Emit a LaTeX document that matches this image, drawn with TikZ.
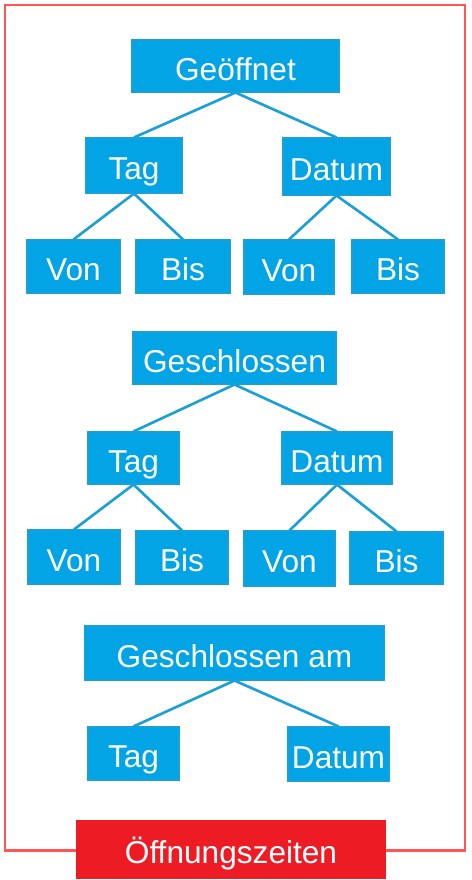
\documentclass[tikz,border=0pt]{standalone}
\usepackage{fontspec}
\setmainfont{Liberation Sans}
\usepackage{xcolor}
\usepackage{tikz}

\definecolor{boxblue}{HTML}{03A4E6}
\definecolor{edgeblue}{HTML}{1A9FD6}
\definecolor{framered}{HTML}{FF5555}
\definecolor{titlered}{HTML}{ED1C24}

\tikzset{
  box/.style={fill=boxblue, draw=edgeblue, line width=0.6pt, text=white,
    inner sep=0pt, font=\fontsize{18}{20}\selectfont,
    text height=16pt, text depth=0pt},
  link/.style={draw=edgeblue, line width=1.5pt}
}

\begin{document}
\begin{tikzpicture}[x=0.02cm, y=-0.02cm]
  \useasboundingbox (0,0) rectangle (471,880);
  \draw[framered, line width=1.7pt] (5,5) rectangle (465,850);

  % Geoeffnet
  \node[box, minimum width=4.14cm, minimum height=1.04cm] (geoeffnet) at (235.5,66) {Geöffnet};
  \node[box, minimum width=1.92cm, minimum height=1.10cm] (tagA) at (134,165.5) {Tag};
  \node[box, minimum width=2.14cm, minimum height=1.14cm] (datumA) at (336.5,166.5) {Datum};
  \node[box, minimum width=1.86cm, minimum height=1.06cm] (vonA) at (73.5,266.5) {Von};
  \node[box, minimum width=1.88cm, minimum height=1.06cm] (bisA) at (183,266.5) {Bis};
  \node[box, minimum width=1.80cm, minimum height=1.08cm] (vonB) at (289,267) {Von};
  \node[box, minimum width=1.84cm, minimum height=1.06cm] (bisB) at (398,266.5) {Bis};

  % Geschlossen
  \node[box, minimum width=4.06cm, minimum height=1.04cm] (geschlossen) at (234.5,358) {Geschlossen};
  \node[box, minimum width=1.82cm, minimum height=1.04cm] (tagB) at (133.5,458) {Tag};
  \node[box, minimum width=2.20cm, minimum height=1.04cm] (datumB) at (337,458) {Datum};
  \node[box, minimum width=1.84cm, minimum height=1.08cm] (vonC) at (74,557) {Von};
  \node[box, minimum width=1.84cm, minimum height=1.06cm] (bisC) at (182,557.5) {Bis};
  \node[box, minimum width=1.82cm, minimum height=1.10cm] (vonD) at (289.5,558.5) {Von};
  \node[box, minimum width=1.86cm, minimum height=1.04cm] (bisD) at (396.5,558) {Bis};

  % Geschlossen am
  \node[box, minimum width=6.02cm, minimum height=1.08cm] (geschlossenAm) at (234.5,653) {Geschlossen am};
  \node[box, minimum width=1.82cm, minimum height=1.06cm] (tagC) at (133.5,753.5) {Tag};
  \node[box, minimum width=2.02cm, minimum height=1.08cm] (datumC) at (338.5,754) {Datum};

  \foreach \a/\b in {geoeffnet/tagA, geoeffnet/datumA, tagA/vonA, tagA/bisA, datumA/vonB, datumA/bisB,
                     geschlossen/tagB, geschlossen/datumB, tagB/vonC, tagB/bisC, datumB/vonD, datumB/bisD,
                     geschlossenAm/tagC, geschlossenAm/datumC}
    \draw[link] (\a.south) -- (\b.north);

  \node[box, fill=titlered, draw=titlered, minimum width=6.20cm, minimum height=1.14cm] (oeffnungszeiten) at (231,849.5) {Öffnungszeiten};
\end{tikzpicture}
\end{document}
